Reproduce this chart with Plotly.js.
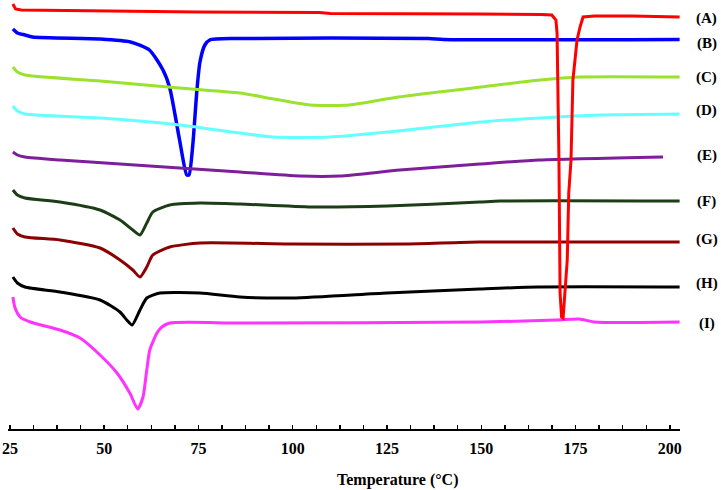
<!DOCTYPE html>
<html>
<head>
<meta charset="utf-8">
<script src="https://cdn.plot.ly/plotly-3.0.1.min.js"></script>
<style>html,body{margin:0;padding:0;background:#fff;}#chart{width:721px;height:490px;}</style>
</head>
<body>
<div id="chart"></div>
<script>
// Temperature (°C) and offset heat flow (a.u.) for each thermogram
const tempA = [25.8,26.5,28,50,75,107,110,150,160,166,168.7,169.8,170.1,170.6,170.9,171.3,171.7,172.2,172.8,173.2,173.8,174.3,175.4,176.2,177,180,190,202.6];
const flowA = [425,420,419,418,417,416.5,415.5,415,415,414.5,414,409,396,269,136,112,111,136,169,236,269,349,389,402,412,413,413,412];

const tempB = [25.8,27,29,31,49,57,62,65.6,67.4,70,71.9,72.5,73.5,74.6,75.4,76.7,78,85,136,140,202.6];
const flowB = [400,396,394,392,390,387,379,359,341,289,254,254,284,339,367,384,389,390.5,390.5,389.5,389.5];

const tempC = [25.8,27,29,49,70,86,95,104.6,115,128,150,165.5,176,202.6];
const flowC = [362,357,354,348,341,336,330,324,324,332,342,349,352,352];

const tempD = [25.8,27,29,49,70,86,94.7,110,125,150,165.5,181.5,202.6];
const flowD = [323,318,315,311,304,296,292,292,297,307,311,314,315];

const tempE = [25.8,27,29,38.3,54.2,70,86,102,112.5,128.4,149.6,165.5,198.2];
const flowE = [277,274,272,269,265,261,257,253,253,259,265,269,272];

const tempF = [25.8,27,29,38.3,48.9,54.2,57.6,59.5,61.3,62.9,67.4,75.4,86,105,125,149.6,155,202.6];
const flowF = [239,234,231,227,219,209,199,194,206,217,224,226,225,222,223,227,228,228];

const tempG = [25.8,27,29,38.3,48.9,54.2,57.6,59.5,61.3,62.9,67.4,75.4,100,130,149.6,202.6];
const flowG = [201,195,192,189,181,169,159,152,162,174,182,186,185,185,187,187];

const tempH = [25.8,27,29,38.3,48.9,54.2,56,57.4,59.5,61.3,64.8,75.4,86,100,125,149.6,165,202.6];
const flowH = [152,146,142,137,129,117,109,104,119,131,136,136,132,131,136,140,142,142];

const tempI = [25.8,26.3,27.7,30.4,38.3,43.6,48.9,53.4,56.8,58.9,60.3,61.3,62.1,64,65.3,67.4,86,150,170,176,180,202.6];
const flowI = [132,122,112,107,99,91,74,56,36,20,32,59,79,96,102,106,106,107,109,110,107,107];

const seriesLabels = ['(A)','(B)','(C)','(D)','(E)','(F)','(G)','(H)','(I)'];
const labelLevels = [411,386,352,319,274,228,190,146,106];
const xTicks = [25,50,75,100,125,150,175,200];
const xTitle = 'Temperature (°C)';

const serif = "'Liberation Serif', 'Times New Roman', Times, serif";
const colors = ['#FF0000','#0000FF','#9BE22D','#66FFFF','#7E1E9A','#1C3D16','#8B0000','#000000','#FF33FF'];
const temps = [tempA,tempB,tempC,tempD,tempE,tempF,tempG,tempH,tempI];
const flows = [flowA,flowB,flowC,flowD,flowE,flowF,flowG,flowH,flowI];

const traces = temps.map((t,i)=>({
  x: t, y: flows[i], type:'scatter', mode:'lines', name: seriesLabels[i],
  line:{color:colors[i], width: i===1 ? 3.5 : 3, shape: i===0 ? 'linear' : 'spline', smoothing:0.6},
  cliponaxis:false, hoverinfo:'skip'
}));
// draw red (A) on top as in reference
const order = [1,2,3,4,5,6,7,8,0].map(i=>traces[i]);

const annotations = seriesLabels.map((s,i)=>({
  xref:'paper', yref:'y', x:1.04, y:labelLevels[i], text:'<b>'+s+'</b>',
  showarrow:false, xanchor:'center', yanchor:'middle',
  font:{family:serif, size:15, color:'#000'}
}));
annotations.push({
  xref:'paper', yref:'paper', x:0.58, y:-0.119, text:'<b>'+xTitle+'</b>',
  showarrow:false, xanchor:'center', yanchor:'middle',
  font:{family:serif, size:16, color:'#000'}
});

const layout = {
  width:721, height:490,
  margin:{l:8, r:41, t:0, b:61},
  paper_bgcolor:'#fff', plot_bgcolor:'#fff',
  showlegend:false,
  font:{family:serif},
  xaxis:{
    range:[24.5,202.7], tickvals:xTicks, ticktext:xTicks.map(v=>'<b>'+v+'</b>'),
    showline:true, linecolor:'#000', linewidth:1.5, showgrid:false, zeroline:false,
    ticks:'inside', ticklen:4, tickcolor:'#000', tickwidth:1.5, ticklabelstandoff:4,
    minor:{dtick:6.25, tick0:25, ticks:'inside', ticklen:4, tickcolor:'#000', tickwidth:1.5},
    tickfont:{family:serif, size:16, color:'#000'},
    fixedrange:true
  },
  yaxis:{range:[0,429], visible:false, fixedrange:true},
  annotations: annotations
};

Plotly.newPlot('chart', order, layout, {staticPlot:true, displayModeBar:false});
</script>
</body>
</html>
